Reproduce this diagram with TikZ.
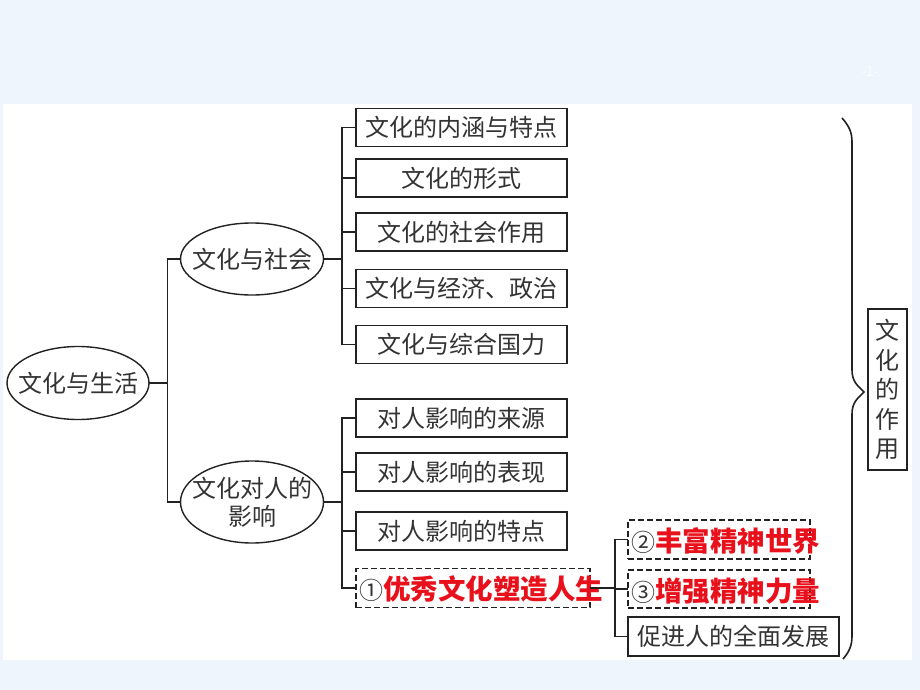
\documentclass[tikz,border=0pt]{standalone}
\usepackage{fontspec}
\setmainfont{Noto Sans CJK SC}
\usetikzlibrary{shapes.geometric}
\definecolor{bgblue}{HTML}{EEF5FD}
\definecolor{txt}{HTML}{333333}
\definecolor{ln}{HTML}{222222}
\definecolor{redt}{HTML}{E8101A}
\begin{document}
\begin{tikzpicture}[x=1pt,y=-1pt,
  every node/.style={inner sep=0pt, outer sep=0pt},
  conn/.style={draw=ln, line width=1.6pt},
  box/.style={draw=ln, line width=1.6pt, minimum height=38pt, text=txt,
    font=\fontsize{24}{28}\selectfont},
  dbox/.style={draw=ln, line width=1.4pt, dash pattern=on 6pt off 3pt},
  oval/.style={ellipse, draw=ln, line width=1.4pt, text=txt, inner xsep=-14pt, inner ysep=0pt,
    font=\fontsize{24}{28}\selectfont},
  redtxt/.style={text=redt, font=\fontsize{27.5}{30}\selectfont\bfseries},
  numtxt/.style={text=txt, font=\fontsize{24}{28}\selectfont}
]
\fill[bgblue] (0,0) rectangle (920,690);
\fill[white] (3,104) rectangle (912,660);
\useasboundingbox (0,0) rectangle (920,690);
\node[text=white, font=\fontsize{14}{16}\selectfont] (pg) at (870,72) {-1-};

% level 0 and 1
\node[oval, minimum width=142pt, minimum height=73pt] (root) at (78,383) {文化与生活};
\node[oval, minimum width=143pt, minimum height=72pt] (soc) at (252,259) {文化与社会};
\node[oval, minimum width=143pt, minimum height=82pt, align=center] (per) at (252,502) {文化对人的\\影响};

% level 2 (society)
\node[box, minimum width=211pt] (b1) at (461.5,127.5) {文化的内涵与特点};
\node[box, minimum width=211pt] (b2) at (461.5,178) {文化的形式};
\node[box, minimum width=211pt] (b3) at (461.5,232) {文化的社会作用};
\node[box, minimum width=211pt] (b4) at (461.5,288.5) {文化与经济、政治};
\node[box, minimum width=211pt] (b5) at (461.5,344.5) {文化与综合国力};

% level 2 (person)
\node[box, minimum width=211pt] (p1) at (461.5,418) {对人影响的来源};
\node[box, minimum width=211pt] (p2) at (461.5,472) {对人影响的表现};
\node[box, minimum width=211pt] (p3) at (461.5,531) {对人影响的特点};
\node[dbox, minimum width=234pt, minimum height=39pt] (c1) at (473,588) {};
\node[anchor=west] (c1t) at (359,589) {\tikz[baseline]\node[numtxt,anchor=base]{①};\tikz[baseline]\node[redtxt,anchor=base]{优秀文化塑造人生};};

% level 3
\node[dbox, minimum width=182pt, minimum height=39pt] (c2) at (719,539.5) {};
\node[anchor=west] (c2t) at (631,541) {\tikz[baseline]\node[numtxt,anchor=base]{②};\tikz[baseline]\node[redtxt,anchor=base]{丰富精神世界};};
\node[dbox, minimum width=182pt, minimum height=38pt] (c3) at (719,589) {};
\node[anchor=west] (c3t) at (631,591) {\tikz[baseline]\node[numtxt,anchor=base]{③};\tikz[baseline]\node[redtxt,anchor=base]{增强精神力量};};
\node[box, minimum width=211pt, minimum height=39pt] (d4) at (733.5,636.5) {促进人的全面发展};

% right box
\node[draw=ln, line width=1.6pt, minimum width=39pt, minimum height=161pt, align=center,
  text=txt, font=\fontsize{24}{29.5}\selectfont] (role) at (887.5,389.5) {文\\化\\的\\作\\用};

% connectors
\draw[conn] (root.east) -- ([xshift=-13pt]root.east -| soc.west);
\draw[conn] (soc.west) -- ++(-13,0) |- (per.west);
\draw[conn] (soc.east) -- ([xshift=-14pt]soc.east -| b1.west);
\draw[conn] (b1.west) -- ++(-14,0) |- (b5.west);
\foreach \n in {b2,b3,b4} \draw[conn] (\n.west) -- ++(-14,0);
\draw[conn] (per.east) -- ([xshift=-14pt]per.east -| p1.west);
\draw[conn] (p1.west) -- ++(-14,0) |- (c1.west);
\foreach \n in {p2,p3} \draw[conn] (\n.west) -- ++(-14,0);
\draw[conn] (c1.east) -- ([xshift=-13pt]c1.east -| c2.west);
\draw[conn] (c2.west) -- ++(-13,0) |- (d4.west);
\draw[conn] (c3.west) -- ++(-13,0);

% brace
\draw[ln, line width=1.6pt]
  (842,118) .. controls (849,126) and (852,132) .. (852,142)
  -- (852,370) .. controls (852,382) and (858,386) .. (864,392)
  .. controls (858,398) and (852,402) .. (852,414)
  -- (852,636) .. controls (852,646) and (849,652) .. (843,659);
\end{tikzpicture}
\end{document}
